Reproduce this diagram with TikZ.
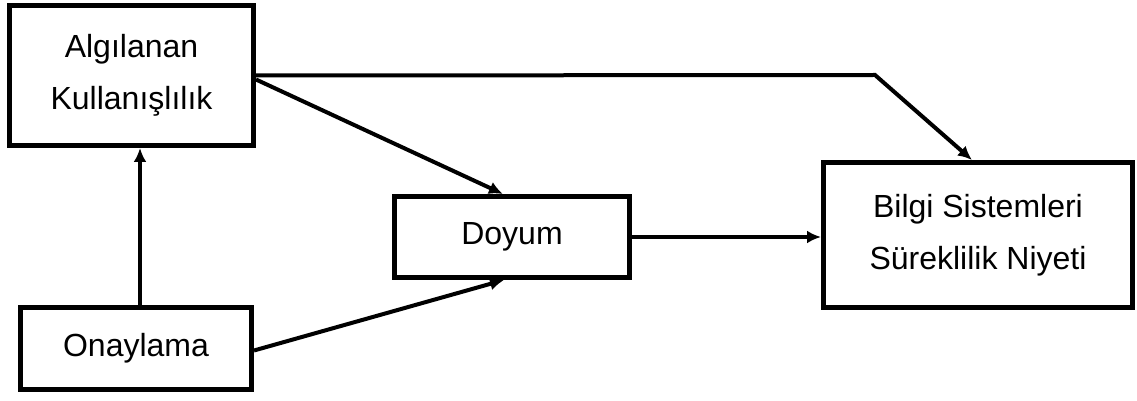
\documentclass[tikz,border=0pt]{standalone}
\usepackage{fontspec}
\setmainfont{Liberation Sans}
\usetikzlibrary{arrows.meta}
\tikzset{
	kutu/.style={draw, line width=2.5pt, align=center, inner sep=0pt, font=\fontsize{16}{26}\selectfont},
	ok/.style={line width=2pt, -{Latex[length=7pt,width=6.5pt]}}
}
\begin{document}
\begin{tikzpicture}[x=0.5pt,y=-0.5pt]
	\useasboundingbox (0,0) rectangle (1137,401);
	\node[kutu, minimum width=122pt, minimum height=70pt] (alg) at (131.5,75.5) {Algılanan\\Kullanışlılık};
	\node[kutu, minimum width=115.5pt, minimum height=41pt] (ony) at (136,348.5) {Onaylama};
	\node[kutu, minimum width=117.5pt, minimum height=40.5pt] (doy) at (512,237) {Doyum};
	\node[kutu, minimum width=154.5pt, minimum height=72.5pt] (bsn) at (978,235) {Bilgi Sistemleri\\Süreklilik Niyeti};
	\coordinate (kirik) at (875,75);
	\draw[ok] ([xshift=2pt]ony.north) -- ([xshift=2pt]ony.north |- alg.south);
	\draw[ok] ([yshift=-2pt]alg.east) -- ([xshift=-4.5pt]doy.north);
	\draw[ok, line join=miter] (alg.east) -- (kirik) -- ([xshift=-3pt]bsn.north);
	\draw[ok] ([yshift=-1pt]ony.east) -- ([xshift=-4pt]doy.south);
	\draw[ok] (doy.east) -- (doy.east -| bsn.west);
\end{tikzpicture}
\end{document}
